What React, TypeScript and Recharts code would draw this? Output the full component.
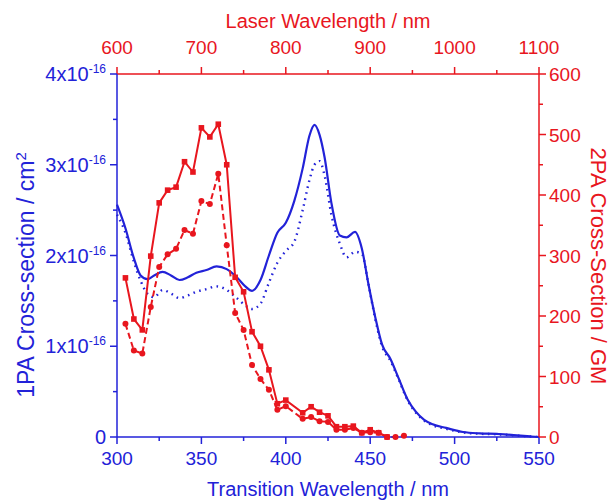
import React from 'react';
import { ComposedChart, Line, XAxis, YAxis } from 'recharts';

const BLUE = '#2222d8';
const RED = '#e8161e';
const FONT = '"Liberation Sans", Arial, sans-serif';

// 1PA spectra, cross-section in units of 1e-16 cm^2
const oneX = [300, 305, 310, 314, 318, 322, 327, 332, 337, 342, 347, 353, 359, 365, 371, 376, 380, 385, 390, 395, 400, 405, 410, 414, 417, 420, 423, 427, 432, 436, 441, 445, 449, 453, 457, 462, 467, 472, 477, 482, 487, 495, 505, 515, 525, 535, 545, 550];
const onePASolid = [2.56, 2.3, 1.97, 1.78, 1.74, 1.78, 1.82, 1.78, 1.73, 1.76, 1.81, 1.84, 1.88, 1.85, 1.76, 1.66, 1.61, 1.73, 2.0, 2.25, 2.36, 2.6, 2.96, 3.32, 3.44, 3.33, 3.08, 2.58, 2.22, 2.2, 2.26, 2.08, 1.68, 1.32, 1.02, 0.86, 0.64, 0.42, 0.28, 0.19, 0.14, 0.1, 0.055, 0.04, 0.035, 0.02, 0.006, 0];
const onePADotted = [2.45, 2.25, 1.93, 1.72, 1.58, 1.54, 1.62, 1.58, 1.53, 1.56, 1.6, 1.63, 1.66, 1.62, 1.53, 1.45, 1.41, 1.47, 1.7, 1.92, 2.05, 2.15, 2.5, 2.83, 3.0, 3.04, 2.88, 2.45, 2.13, 1.98, 2.04, 2.02, 1.68, 1.3, 1.0, 0.84, 0.63, 0.41, 0.27, 0.18, 0.13, 0.09, 0.05, 0.035, 0.03, 0.018, 0.005, 0];

// 2PA data, GM, plotted at transition wavelength (laser / 2)
const twoXSolid = [305, 310, 315, 320, 325, 330, 335, 340, 345, 350, 355, 360, 365, 370, 375, 380, 385, 390, 395, 400, 410, 415, 420, 425, 430, 435, 440, 445, 450, 455, 460];
const twoPASolid = [263, 195, 177, 299, 387, 408, 413, 455, 438, 511, 496, 517, 450, 264, 240, 174, 150, 111, 55, 61, 40, 50, 41, 35, 17, 17, 18, 7, 12, 7, 0];
const twoXDashed = [305, 310, 315, 320, 325, 330, 335, 340, 345, 350, 355, 360, 365, 370, 375, 380, 385, 390, 395, 400, 410, 415, 420, 425, 430, 435, 440, 445, 450, 455, 460, 465, 470];
const twoPADashed = [187, 143, 138, 215, 281, 302, 311, 342, 336, 390, 385, 435, 317, 205, 177, 119, 96, 78, 45, 51, 30, 33, 26, 25, 12, 12, 15, 7, 8, 7, 0, 0, 2];

const bottomTicks = [300, 325, 350, 375, 400, 425, 450, 475, 500, 525, 550];
const topTicks = [600, 650, 700, 750, 800, 850, 900, 950, 1000, 1050, 1100];
const leftTicks = [0, 0.5, 1, 1.5, 2, 2.5, 3, 3.5, 4];
const rightTicks = [0, 50, 100, 150, 200, 250, 300, 350, 400, 450, 500, 550, 600];

const solid1 = oneX.map((x, i) => ({ x, y: onePASolid[i] }));
const dotted1 = oneX.map((x, i) => ({ x, y: onePADotted[i] }));
const solid2 = twoXSolid.map((x, i) => ({ x, y: twoPASolid[i] }));
const dashed2 = twoXDashed.map((x, i) => ({ x, y: twoPADashed[i] }));
const laserAxis = topTicks.map((x) => ({ x }));

const BottomTick = ({ x, y, payload }: any) => {
  const major = payload.value % 50 === 0;
  return (
    <g>
      <line x1={x} x2={x} y1={y} y2={y + (major ? 7 : 4)} stroke={BLUE} strokeWidth={1.5} />
      {major && (
        <text x={x} y={y + 28} textAnchor="middle" fill={BLUE} fontSize={19} fontFamily={FONT}>
          {payload.value}
        </text>
      )}
    </g>
  );
};

const TopTick = ({ x, y, payload }: any) => {
  const major = payload.value % 100 === 0;
  return (
    <g>
      <line x1={x} x2={x} y1={y} y2={y - (major ? 7 : 4)} stroke={RED} strokeWidth={1.5} />
      {major && (
        <text x={x} y={y - 20} textAnchor="middle" fill={RED} fontSize={19} fontFamily={FONT}>
          {payload.value}
        </text>
      )}
    </g>
  );
};

const LeftTick = ({ x, y, payload }: any) => {
  const v = payload.value;
  const major = Number.isInteger(v);
  return (
    <g>
      <line x1={x} x2={x - (major ? 7 : 4)} y1={y} y2={y} stroke={BLUE} strokeWidth={1.5} />
      {major && (
        <text x={x - 11} y={y + 7} textAnchor="end" fill={BLUE} fontSize={20} fontFamily={FONT}>
          {v === 0 ? '0' : `${v}x10`}
          {v !== 0 && (
            <tspan dy={-8} fontSize={12}>
              -16
            </tspan>
          )}
        </text>
      )}
    </g>
  );
};

const RightTick = ({ x, y, payload }: any) => {
  const major = payload.value % 100 === 0;
  return (
    <g>
      <line x1={x} x2={x + (major ? 7 : 4)} y1={y} y2={y} stroke={RED} strokeWidth={1.5} />
      {major && (
        <text x={x + 10} y={y + 7} textAnchor="start" fill={RED} fontSize={19} fontFamily={FONT}>
          {payload.value}
        </text>
      )}
    </g>
  );
};

const squareDot = (p: any) => (
  <rect key={`s${p.index}`} x={p.cx - 2.8} y={p.cy - 2.8} width={5.6} height={5.6} fill={RED} />
);
const circleDot = (p: any) => <circle key={`c${p.index}`} cx={p.cx} cy={p.cy} r={3} fill={RED} />;

export default function App() {
  return (
    <div style={{ position: 'absolute', left: 0, top: 0, width: 612, height: 500, background: '#fff', fontFamily: FONT }}>
      <ComposedChart width={612} height={500} margin={{ top: 0, right: 0, bottom: 0, left: 0 }}>
        <XAxis
          xAxisId="bottom"
          dataKey="x"
          type="number"
          domain={[300, 550]}
          ticks={bottomTicks}
          height={63}
          stroke={BLUE}
          strokeWidth={1.5}
          tickSize={0}
          tickMargin={0}
          tick={<BottomTick />}
          interval={0}
        />
        <XAxis
          xAxisId="top"
          orientation="top"
          dataKey="x"
          type="number"
          domain={[600, 1100]}
          ticks={topTicks}
          height={74}
          stroke={RED}
          strokeWidth={1.5}
          tickSize={0}
          tickMargin={0}
          tick={<TopTick />}
          interval={0}
        />
        <YAxis
          yAxisId="left"
          type="number"
          domain={[0, 4]}
          ticks={leftTicks}
          width={117}
          stroke={BLUE}
          strokeWidth={1.5}
          tickSize={0}
          tickMargin={0}
          tick={<LeftTick />}
          interval={0}
        />
        <YAxis
          yAxisId="right"
          orientation="right"
          type="number"
          domain={[0, 600]}
          ticks={rightTicks}
          width={73}
          stroke={RED}
          strokeWidth={1.5}
          tickSize={0}
          tickMargin={0}
          tick={<RightTick />}
          interval={0}
        />
        <Line xAxisId="top" yAxisId="right" data={laserAxis} dataKey="y" stroke="none" dot={false} legendType="none" isAnimationActive={false} />
        <Line xAxisId="bottom" yAxisId="left" data={dotted1} dataKey="y" type="monotone" stroke={BLUE} strokeWidth={2.4} strokeDasharray="1.6 4.4" dot={false} isAnimationActive={false} />
        <Line xAxisId="bottom" yAxisId="left" data={solid1} dataKey="y" type="monotone" stroke={BLUE} strokeWidth={2.2} dot={false} isAnimationActive={false} />
        <Line xAxisId="bottom" yAxisId="right" data={dashed2} dataKey="y" type="linear" stroke={RED} strokeWidth={2} strokeDasharray="6 3.5" dot={circleDot} isAnimationActive={false} />
        <Line xAxisId="bottom" yAxisId="right" data={solid2} dataKey="y" type="linear" stroke={RED} strokeWidth={2} dot={squareDot} isAnimationActive={false} />
      </ComposedChart>
      <div style={{ position: 'absolute', left: 328, top: 21, transform: 'translate(-50%, -50%)', color: RED, fontSize: 20, whiteSpace: 'nowrap' }}>
        Laser Wavelength / nm
      </div>
      <div style={{ position: 'absolute', left: 328, top: 489, transform: 'translate(-50%, -50%)', color: BLUE, fontSize: 20, whiteSpace: 'nowrap' }}>
        Transition Wavelength / nm
      </div>
      <div style={{ position: 'absolute', left: 26, top: 275, transform: 'translate(-50%, -50%) rotate(-90deg)', color: BLUE, fontSize: 23, whiteSpace: 'nowrap' }}>
        1PA Cross-section / cm<sup style={{ fontSize: 15 }}>2</sup>
      </div>
      <div style={{ position: 'absolute', left: 598, top: 266, transform: 'translate(-50%, -50%) rotate(90deg)', color: RED, fontSize: 22, whiteSpace: 'nowrap' }}>
        2PA Cross-Section / GM
      </div>
    </div>
  );
}
